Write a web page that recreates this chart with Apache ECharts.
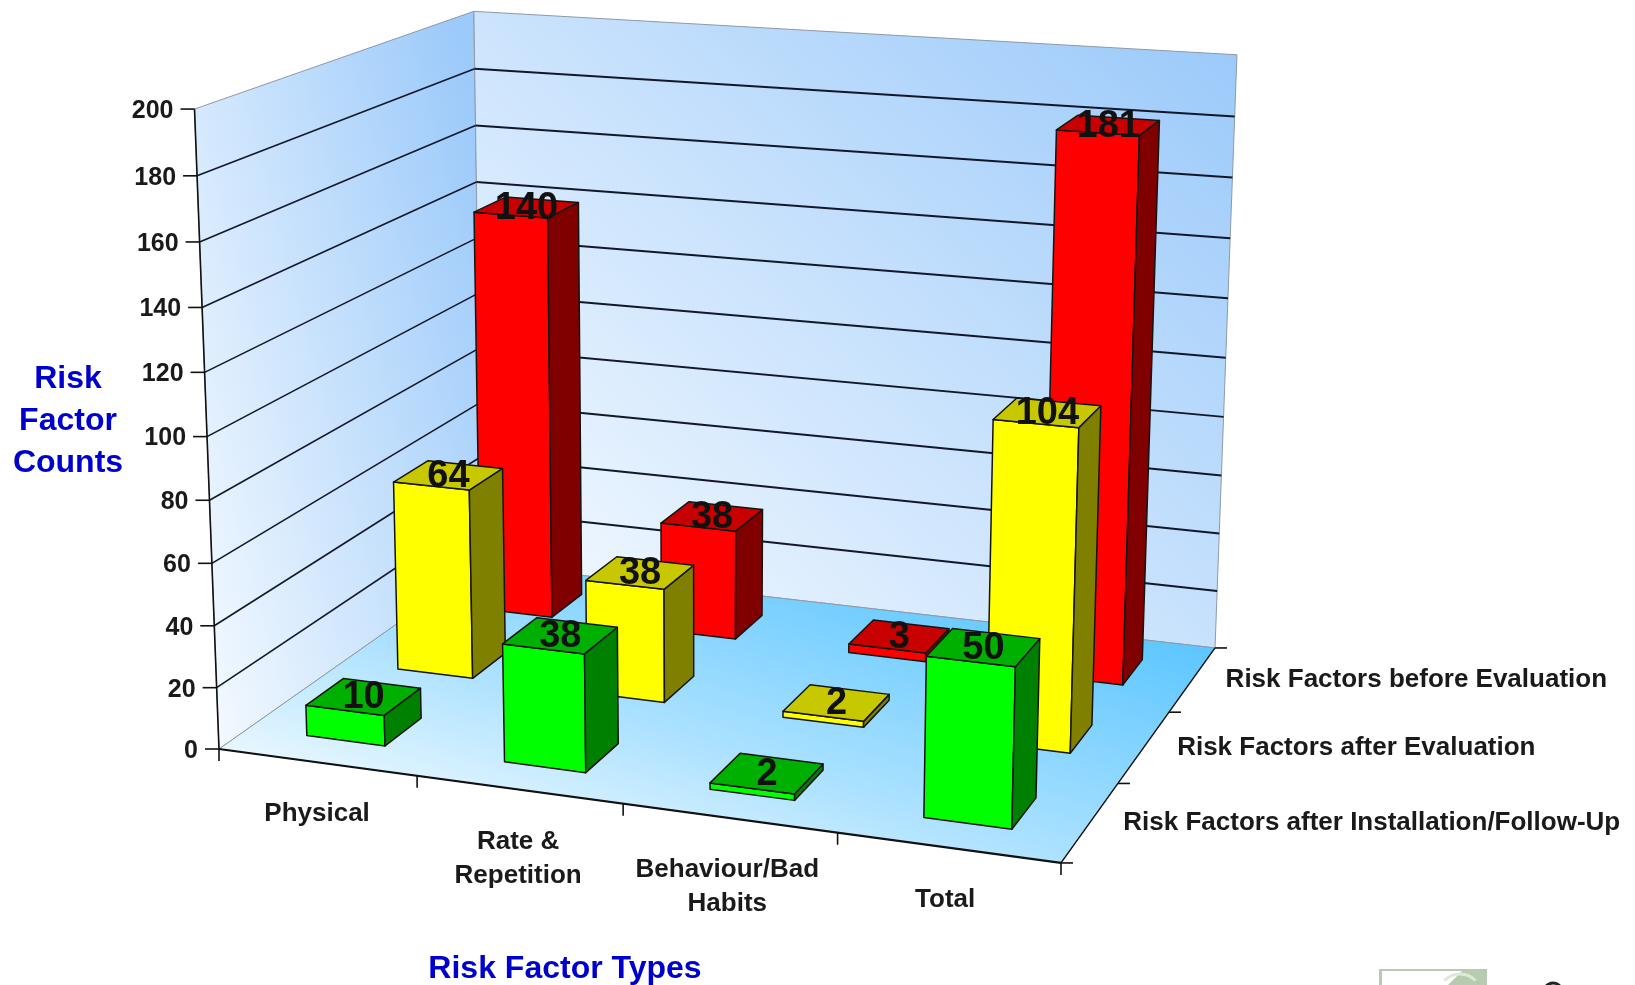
<!DOCTYPE html>
<html>
<head>
<meta charset="utf-8">
<title>Risk Factor Counts</title>
<style>html,body{margin:0;padding:0;background:#fff}#chart{width:1635px;height:985px}</style>
<script src="https://cdn.jsdelivr.net/npm/echarts@6/dist/echarts.min.js"></script>
</head>
<body>
<div id="chart"></div>
<script>
// ---- data ----
const categories = ['Physical', 'Rate &\nRepetition', 'Behaviour/Bad\nHabits', 'Total'];
const depthLabels = ['Risk Factors after Installation/Follow-Up', 'Risk Factors after Evaluation', 'Risk Factors before Evaluation'];
const yTicks = [0, 20, 40, 60, 80, 100, 120, 140, 160, 180, 200];
const beforeEvaluation = [140, 38, 3, 181];
const afterEvaluation = [64, 38, 2, 104];
const afterFollowUp = [10, 38, 2, 50];
const yAxisTitle = 'Risk\nFactor\nCounts';
const xAxisTitle = 'Risk Factor Types';

// ---- perspective camera: (u across, v into depth, h up), each 0..1 -> screen ----
const CAM = [
  [760.3, 336.7, -33.5, 219],
  [47.5, -94.7, -645, 749],
  [-0.077, 0.1601, -0.0463, 1]
];
function cam(u, v, h) {
  const w = CAM[2][0]*u + CAM[2][1]*v + CAM[2][2]*h + CAM[2][3];
  const skew = (1 - u) * v;   // slight lean of the source drawing at the back-left corner
  return [
    (CAM[0][0]*u + CAM[0][1]*v + CAM[0][2]*h + CAM[0][3]) / w + skew * (3 + 2*h),
    (CAM[1][0]*u + CAM[1][1]*v + CAM[1][2]*h + CAM[1][3]) / w + skew * 3 * h
  ];
}
const BAR_FILL = 0.4;          // share of a band taken by a bar, both directions
const Y_TICK_FONT = 'bold 25px "Liberation Sans", Arial, sans-serif';
const TICK_FONT = 'bold 26px "Liberation Sans", Arial, sans-serif';
const TITLE_FONT = 'bold 32px "Liberation Sans", Arial, sans-serif';
const VALUE_FONT = 'bold 38px "Liberation Sans", Arial, sans-serif';
const TITLE_BLUE = '#0000cc';
const TICK_INK = '#1a1a1a';

const poly = (points, style) => ({type: 'polygon', shape: {points}, style});
const seg = (a, b, stroke, lineWidth) => ({type: 'line', shape: {x1: a[0], y1: a[1], x2: b[0], y2: b[1]}, style: {stroke, lineWidth, fill: null}});
const txt = (text, x, y, font, fill, align, verticalAlign, lineHeight) => ({type: 'text', style: {text, x, y, font, fill, align, verticalAlign, lineHeight}});
const grad = (x0, y0, x1, y1, stops) => new echarts.graphic.LinearGradient(x0, y0, x1, y1, stops, true);

// normalise the hidden axes' own pixel output to the 0..1 box
function toBox(params, api, cat, val) {
  const r = params.coordSys;
  const p = api.coord([cat, val]);
  return {u: (p[0] - r.x) / r.width, h: (r.y + r.height - p[1]) / r.height,
          bandU: api.size([1, 0])[0] / r.width};
}

function renderBackdrop(params, api) {
  const k = [];
  const wallStops = [{offset: 0, color: '#f3f9ff'}, {offset: 1, color: '#9ccafa'}];
  const wallA = grad(218, 749, 619, 643, wallStops);
  const wallB = grad(479, 564, 1085, -84, wallStops);
  const floor = grad(213, 769, 340, 369, [{offset: 0, color: '#f0faff'}, {offset: 0.4, color: '#aee2ff'}, {offset: 1, color: '#5cc6ff'}]);
  k.push(poly([cam(0,0,0), cam(0,1,0), cam(0,1,1), cam(0,0,1)], {fill: wallA, stroke: '#8f9aa6', lineWidth: 1}));
  k.push(poly([cam(0,1,0), cam(1,1,0), cam(1,1,1), cam(0,1,1)], {fill: wallB, stroke: '#8f9aa6', lineWidth: 1}));
  k.push(poly([cam(0,0,0), cam(1,0,0), cam(1,1,0), cam(0,1,0)], {fill: floor, stroke: '#8f9aa6', lineWidth: 1}));

  yTicks.forEach(t => {
    const h = toBox(params, api, 0, t).h;
    if (t > 0 && t < yTicks[yTicks.length - 1]) {
      k.push(seg(cam(0,0,h), cam(0,1,h), '#12182a', 1.6));
      k.push(seg(cam(0,1,h), cam(1,1,h), '#12182a', 2));
    }
    const p = cam(0,0,h);
    k.push(seg([p[0]-14, p[1]], [p[0], p[1]], '#111', 1.6));
    k.push(txt(String(t), p[0]-21, p[1]+2, Y_TICK_FONT, TICK_INK, 'right', 'middle'));
  });
  // axis lines
  k.push(seg(cam(0,0,0), cam(0,0,1), '#111', 1.6));
  k.push(seg(cam(0,0,0), cam(1,0,0), '#111', 2.2));
  k.push(seg(cam(1,0,0), cam(1,1,0), '#111', 1.4));

  // category axis ticks and labels
  const n = categories.length;
  const band = 1 / n;
  for (let i = 0; i <= n; i++) {
    const p = cam(i * band, 0, 0);
    k.push(seg(p, [p[0], p[1] + 12], '#111', 1.6));
  }
  categories.forEach((name, i) => {
    const b = toBox(params, api, i, 0);
    const p = cam(b.u, 0, 0);
    k.push(txt(name, p[0] + 0.5 - 4 * b.u, p[1] + 35, TICK_FONT, TICK_INK, 'center', 'top', 34));
  });
  // depth axis ticks and labels
  const m = depthLabels.length;
  for (let i = 0; i <= m; i++) {
    const p = cam(1, i / m, 0);
    k.push(seg(p, [p[0] + 12, p[1]], '#111', 1.6));
  }
  depthLabels.forEach((name, i) => {
    const p = cam(1, (i + 0.5) / m, 0);
    k.push(txt(name, p[0] + 33, p[1] + 1, TICK_FONT, TICK_INK, 'left', 'middle'));
  });
  // axis titles
  k.push(txt(yAxisTitle, 68, 421, TITLE_FONT, TITLE_BLUE, 'center', 'middle', 42));
  k.push(txt(xAxisTitle, 565, 969, TITLE_FONT, TITLE_BLUE, 'center', 'middle'));
  return {type: 'group', children: k};
}

function barRenderer(depthIndex, front, side, top) {
  return function (params, api) {
    const b = toBox(params, api, api.value(0), api.value(1));
    const hu = b.bandU * BAR_FILL / 2;
    const dv = 1 / depthLabels.length;
    const hv = dv * BAR_FILL / 2;
    const v = (depthIndex + 0.5) * dv;
    const u0 = b.u - hu, u1 = b.u + hu, v0 = v - hv, v1 = v + hv, h = b.h;
    const edge = {stroke: '#141414', lineWidth: 1.5, lineJoin: 'round'};
    const c = cam(b.u, v, h);
    return {type: 'group', children: [
      poly([cam(u0,v0,0), cam(u1,v0,0), cam(u1,v0,h), cam(u0,v0,h)], Object.assign({fill: front}, edge)),
      poly([cam(u1,v0,0), cam(u1,v1,0), cam(u1,v1,h), cam(u1,v0,h)], Object.assign({fill: side}, edge)),
      poly([cam(u0,v0,h), cam(u1,v0,h), cam(u1,v1,h), cam(u0,v1,h)], Object.assign({fill: top}, edge)),
      txt(String(api.value(1)), c[0], c[1] + 1, VALUE_FONT, '#111', 'center', 'middle')
    ]};
  };
}
const rows = (values) => values.map((v, i) => [i, v]);

const chart = echarts.init(document.getElementById('chart'), null, {renderer: 'canvas', width: 1635, height: 985});
chart.setOption({
  animation: false,
  backgroundColor: '#ffffff',
  grid: {left: 100, right: 100, top: 100, bottom: 100},
  xAxis: {type: 'category', data: categories, show: false},
  yAxis: {type: 'value', min: 0, max: 200, interval: 20, show: false},
  graphic: [
    {type: 'rect', shape: {x: 1379, y: 969, width: 108, height: 16}, style: {fill: '#b7cbb0'}, silent: true},
    {type: 'polygon', shape: {points: [[1382,971],[1462,971],[1448,985],[1382,985]]}, style: {fill: '#ffffff'}, silent: true},
    {type: 'arc', shape: {cx: 1460, cy: 996, r: 22, startAngle: Math.PI*1.25, endAngle: Math.PI*1.75}, style: {stroke: '#dfe8db', lineWidth: 3, fill: null}, silent: true},
    {type: 'arc', shape: {cx: 1553, cy: 992, r: 9, startAngle: Math.PI*1.1, endAngle: Math.PI*1.9}, style: {stroke: '#222', lineWidth: 3, fill: null}, silent: true}
  ],
  series: [
    {type: 'custom', name: 'backdrop', coordinateSystem: 'cartesian2d', data: [[0, 0]], encode: {x: 0, y: 1}, renderItem: renderBackdrop, silent: true},
    {type: 'custom', name: depthLabels[2], coordinateSystem: 'cartesian2d', data: rows(beforeEvaluation), encode: {x: 0, y: 1},
      renderItem: barRenderer(2, '#ff0000', '#800000', '#c80000')},
    {type: 'custom', name: depthLabels[1], coordinateSystem: 'cartesian2d', data: rows(afterEvaluation), encode: {x: 0, y: 1},
      renderItem: barRenderer(1, '#ffff00', '#808000', '#c8c800')},
    {type: 'custom', name: depthLabels[0], coordinateSystem: 'cartesian2d', data: rows(afterFollowUp), encode: {x: 0, y: 1},
      renderItem: barRenderer(0, '#00ff00', '#008000', '#00b000')}
  ]
});
</script>
</body>
</html>
